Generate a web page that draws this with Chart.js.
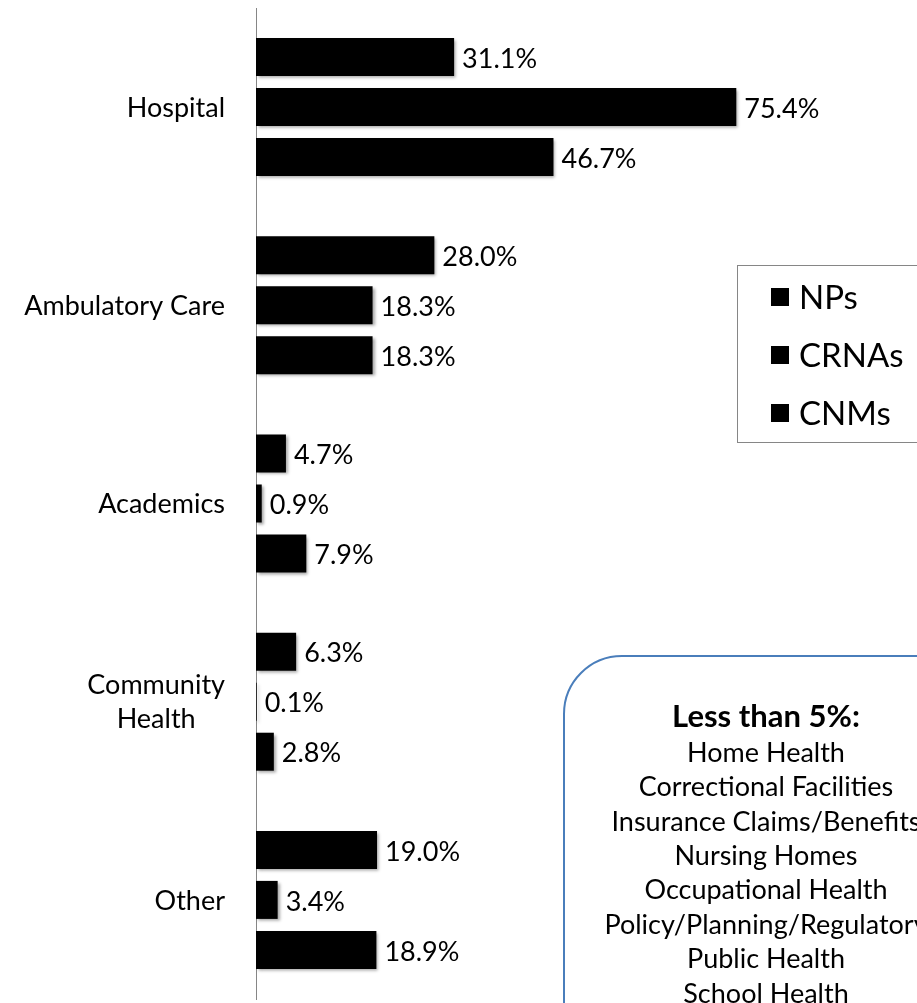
<!DOCTYPE html>
<html>
<head>
<meta charset="utf-8">
<script src="https://cdn.jsdelivr.net/npm/chart.js@4.4.1/dist/chart.umd.min.js"></script>
<style>
  html, body { margin: 0; padding: 0; background: #fff; overflow: hidden; }
  #c { display: block; }
</style>
</head>
<body>
<canvas id="c" width="917" height="1003"></canvas>
<script>
const categories = ['Hospital', 'Ambulatory Care', 'Academics', ['Community', 'Health'], 'Other'];
const seriesNames = ['NPs', 'CRNAs', 'CNMs'];
const npValues = [31.1, 28.0, 4.7, 6.3, 19.0];
const crnaValues = [75.4, 18.3, 0.9, 0.1, 3.4];
const cnmValues = [46.7, 18.3, 7.9, 2.8, 18.9];
const noteTitle = 'Less than 5%:';
const noteItems = ['Home Health', 'Correctional Facilities', 'Insurance Claims/Benefits', 'Nursing Homes',
  'Occupational Health', 'Policy/Planning/Regulatory', 'Public Health', 'School Health'];

const FONT = 'Lato, "Open Sans", sans-serif';
const LABEL_SIZE = 27;

const barShadowAndLabels = {
  id: 'barShadowAndLabels',
  beforeDatasetsDraw(chart) {
    const ctx = chart.ctx;
    ctx.save();
    ctx.shadowColor = 'rgba(0,0,0,0.35)';
    ctx.shadowBlur = 3;
    ctx.shadowOffsetX = 2;
    ctx.shadowOffsetY = 2;
  },
  afterDatasetsDraw(chart) {
    const ctx = chart.ctx;
    ctx.restore();
    ctx.save();
    ctx.fillStyle = '#000';
    ctx.font = LABEL_SIZE + 'px ' + FONT;
    ctx.textAlign = 'left';
    ctx.textBaseline = 'middle';
    chart.data.datasets.forEach((ds, di) => {
      const meta = chart.getDatasetMeta(di);
      meta.data.forEach((bar, i) => {
        ctx.fillText(ds.data[i].toFixed(1) + '%', bar.x + 8, bar.y + 2);
      });
    });
    ctx.restore();
  }
};

const categoryLabels = {
  id: 'categoryLabels',
  afterDraw(chart) {
    const ctx = chart.ctx;
    const yScale = chart.scales.y;
    const right = 225;
    const lh = 34;
    ctx.save();
    ctx.fillStyle = '#000';
    ctx.font = LABEL_SIZE + 'px ' + FONT;
    ctx.textBaseline = 'middle';
    chart.data.labels.forEach((lab, i) => {
      const y = yScale.getPixelForValue(i);
      const lines = Array.isArray(lab) ? lab : [lab];
      const maxW = Math.max(...lines.map(l => ctx.measureText(l).width));
      const cx = right - maxW / 2;
      ctx.textAlign = 'center';
      lines.forEach((l, k) => {
        const ly = y + (k - (lines.length - 1) / 2) * lh + 1;
        ctx.fillText(l, cx, ly);
      });
    });
    ctx.restore();
  }
};

const boxedLegend = {
  id: 'boxedLegend',
  afterDraw(chart) {
    const ctx = chart.ctx;
    ctx.save();
    ctx.fillStyle = '#fff';
    ctx.fillRect(737.5, 265.5, 200, 177);
    ctx.strokeStyle = '#868686';
    ctx.lineWidth = 1;
    ctx.strokeRect(737.5, 265.5, 200, 177);
    ctx.font = '33px ' + FONT;
    ctx.textAlign = 'left';
    ctx.textBaseline = 'middle';
    chart.data.datasets.forEach((ds, i) => {
      const cy = 297 + i * 58;
      ctx.fillStyle = ds.backgroundColor;
      ctx.fillRect(771, cy - 9, 18, 18);
      ctx.fillStyle = '#000';
      ctx.fillText(ds.label, 799, cy + 1);
    });
    ctx.restore();
  }
};

const noteBox = {
  id: 'noteBox',
  afterDraw(chart) {
    const ctx = chart.ctx;
    ctx.save();
    ctx.beginPath();
    ctx.roundRect(564, 656, 420, 420, 58);
    ctx.fillStyle = '#fff';
    ctx.fill();
    ctx.strokeStyle = '#4a7ebb';
    ctx.lineWidth = 2;
    ctx.stroke();
    ctx.fillStyle = '#000';
    ctx.textAlign = 'center';
    ctx.textBaseline = 'middle';
    const cx = 766;
    ctx.font = 'bold 31px ' + FONT;
    ctx.fillText(noteTitle, cx, 717);
    ctx.font = '27px ' + FONT;
    noteItems.forEach((t, k) => ctx.fillText(t, cx, 753 + k * 34.4));
    ctx.restore();
  }
};

new Chart(document.getElementById('c'), {
  type: 'bar',
  data: {
    labels: categories,
    datasets: [
      { label: seriesNames[0], data: npValues, backgroundColor: '#000000' },
      { label: seriesNames[1], data: crnaValues, backgroundColor: '#000000' },
      { label: seriesNames[2], data: cnmValues, backgroundColor: '#000000' }
    ]
  },
  options: {
    indexAxis: 'y',
    responsive: false,
    animation: false,
    events: [],
    datasets: { bar: { categoryPercentage: 0.757, barPercentage: 0.76, borderWidth: 0 } },
    layout: { padding: { left: 0, right: 24, top: 8, bottom: 4 } },
    plugins: { legend: { display: false }, tooltip: { enabled: false } },
    scales: {
      x: { display: false, min: 0, max: 100 },
      y: {
        grid: { display: false },
        border: { display: true, color: '#868686', width: 1 },
        ticks: { display: false },
        afterFit(s) { s.width = 256; }
      }
    }
  },
  plugins: [barShadowAndLabels, categoryLabels, boxedLegend, noteBox]
});
</script>
</body>
</html>
